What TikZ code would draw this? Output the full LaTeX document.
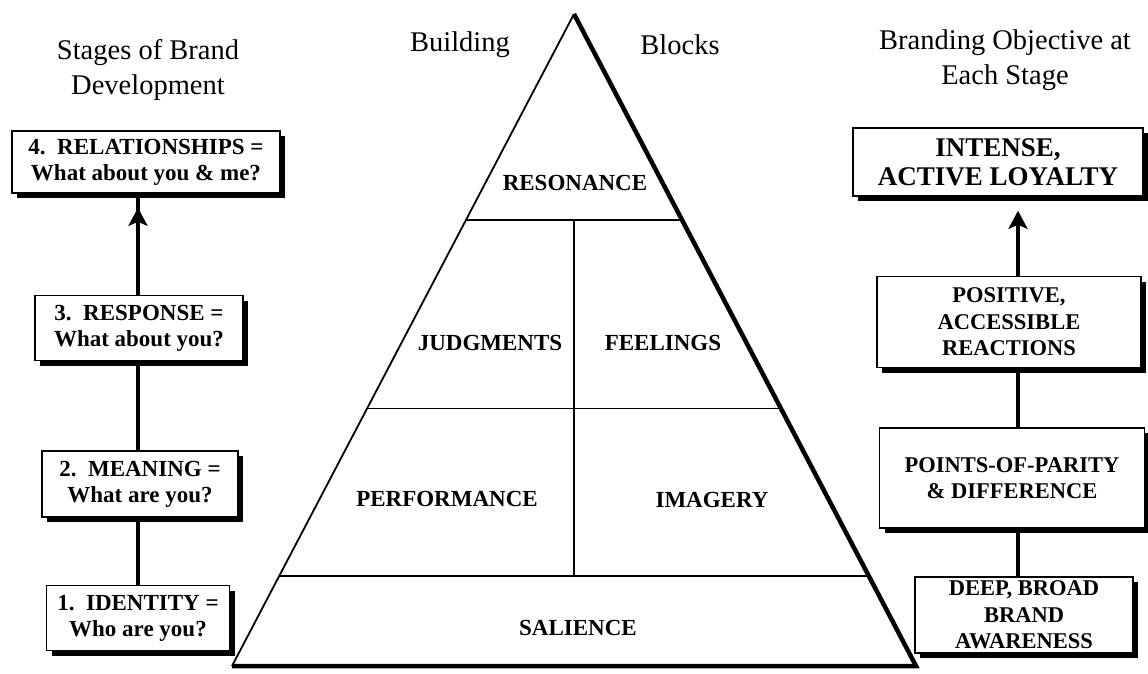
\documentclass[tikz,border=0pt]{standalone}
\usepackage{fontspec}
\setmainfont{Liberation Serif}
\usetikzlibrary{arrows.meta,calc,shadows}

\newlength{\du}
\setlength{\du}{1pt}

\tikzset{
  heading/.style={align=center, inner sep=0pt, font=\fontsize{28.5}{35}\selectfont},
  stagebox/.style={draw=black, fill=white, line width=1.6\du, align=center, inner sep=0pt,
    font=\fontsize{23}{26}\selectfont\bfseries,
    drop shadow={opacity=1, fill=black, shadow xshift=5\du, shadow yshift=-5\du}},
  goalbox/.style={stagebox, font=\fontsize{22.5}{26.5}\selectfont\bfseries},
  block/.style={inner sep=0pt, font=\fontsize{23}{25}\selectfont\bfseries},
  stem/.style={line width=3.5\du},
  tier/.style={line width=1.8\du},
  uparrow/.style={stem, -{Stealth[length=18pt, width=19pt, inset=4pt]}, shorten >=14pt},
}

\begin{document}
\begin{tikzpicture}
\pgftransformyscale{-1.000000}
\useasboundingbox (0\du,0\du) rectangle (1148\du,674\du);

% headings
\node[heading] (stagetitle) at (148\du,70\du) {Stages of Brand\\Development};
\node[heading] (building) at (460\du,45\du) {Building};
\node[heading] (blocks) at (680\du,45\du) {Blocks};
\node[heading] (goaltitle) at (1005\du,60\du) {Branding Objective at\\Each Stage};

% pyramid
\coordinate (apex) at (574\du,14\du);
\coordinate (baseleft) at (232\du,666\du);
\coordinate (baseright) at (916\du,666\du);
\coordinate (t1l) at ($(apex)!0.3155!(baseleft)$);
\coordinate (t1r) at ($(apex)!0.3155!(baseright)$);
\coordinate (t2l) at ($(apex)!0.605!(baseleft)$);
\coordinate (t2r) at ($(apex)!0.605!(baseright)$);
\coordinate (t3l) at ($(apex)!0.862!(baseleft)$);
\coordinate (t3r) at ($(apex)!0.862!(baseright)$);
\draw[tier] (t1l) -- (t1r);
\draw[tier] (t2l) -- (t2r);
\draw[tier] (t3l) -- (t3r);
\draw[tier] ($(t1l)!0.5!(t1r)$) -- ($(t3l)!0.5!(t3r)$);
\draw[line width=1.8\du] (baseleft) -- (apex);
\draw[line width=4.5\du, line join=miter] (apex) -- (baseright) -- (baseleft) -- ([xshift=1\du]baseleft);

\node[block] (resonance) at (575\du,183\du) {RESONANCE};
\node[block] (judgments) at (490\du,343\du) {JUDGMENTS};
\node[block] (feelings) at (663\du,343\du) {FEELINGS};
\node[block] (performance) at (447\du,499\du) {PERFORMANCE};
\node[block] (imagery) at (712\du,500\du) {IMAGERY};
\node[block] (salience) at (578\du,628\du) {SALIENCE};

% stages of brand development
\coordinate (leftstem) at (138\du,0\du);
\draw[stem] (leftstem |- 0\du,618\du) -- (leftstem |- 0\du,160\du);
\node[stagebox, minimum width=268\du, minimum height=62\du] (relationships) at (146\du,162\du) {4.\ \ RELATIONSHIPS =\\What about you \& me?};
\node[stagebox, minimum width=208\du, minimum height=65\du] (response) at (139\du,328\du) {3.\ \ RESPONSE =\\What about you?};
\node[stagebox, minimum width=196\du, minimum height=66\du] (meaning) at (140\du,484\du) {2.\ \ MEANING =\\What are you?};
\node[stagebox, minimum width=183\du, minimum height=65\du] (identity) at (138\du,618\du) {1.\ \ IDENTITY =\\Who are you?};

% objectives at each stage
\coordinate (rightstem) at (1018\du,0\du);
\draw[stem] (rightstem |- 0\du,615\du) -- (rightstem |- 0\du,322\du);
\node[goalbox, minimum width=290\du, minimum height=68\du, font=\fontsize{27}{29}\selectfont\bfseries] (loyalty) at (998\du,162\du) {INTENSE,\\ACTIVE LOYALTY};
\node[goalbox, minimum width=264\du, minimum height=91\du] (reactions) at (1009\du,322\du) {POSITIVE,\\ACCESSIBLE\\REACTIONS};
\node[goalbox, minimum width=265\du, minimum height=100\du] (parity) at (1012\du,478\du) {POINTS-OF-PARITY\\\& DIFFERENCE};
\node[goalbox, minimum width=218\du, minimum height=76\du] (awareness) at (1024\du,615\du) {DEEP, BROAD\\BRAND\\AWARENESS};

% arrows into the top boxes
\draw[uparrow] (response.north -| leftstem) -- (relationships.south -| leftstem);
\draw[uparrow] (reactions.north -| rightstem) -- (loyalty.south -| rightstem);
\end{tikzpicture}
\end{document}
